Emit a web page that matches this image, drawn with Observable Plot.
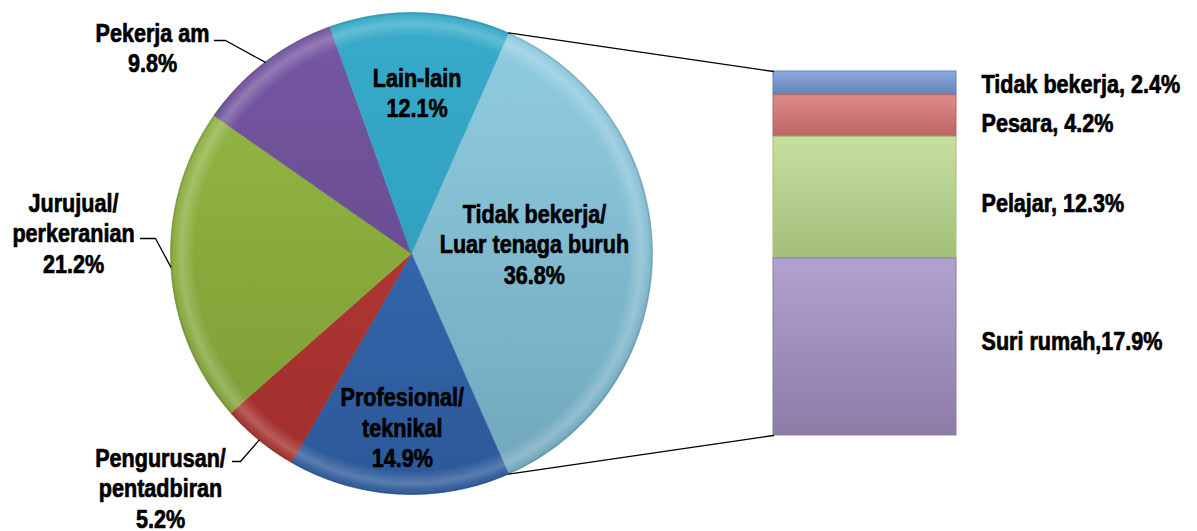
<!DOCTYPE html>
<html>
<head>
<meta charset="utf-8">
<script src="https://cdn.jsdelivr.net/npm/d3@7"></script>
<script src="https://cdn.jsdelivr.net/npm/@observablehq/plot@0.6"></script>
<style>
  html, body { margin: 0; padding: 0; background: #ffffff; }
  #chart svg { display: block; }
</style>
</head>
<body>
<div id="chart"></div>
<script>
// ---------- DATA ----------
const pieCategories = ["Tidak bekerja/\nLuar tenaga buruh", "Profesional/\nteknikal", "Pengurusan/\npentadbiran", "Jurujual/\nperkeranian", "Pekerja am", "Lain-lain"];
const pieValues = [36.8, 14.9, 5.2, 21.2, 9.8, 12.1];
const barCategories = ["Tidak bekerja", "Pesara", "Pelajar", "Suri rumah"];
const barValues = [2.4, 4.2, 12.3, 17.9];
const barLabelText = ["Tidak bekerja, 2.4%", "Pesara, 4.2%", "Pelajar, 12.3%", "Suri rumah,17.9%"];

// ---------- STYLE / LAYOUT ----------
const W = 1197, H = 531;
const cx = 411, cy = 253, R = 241;
const pieTop = ["#92cfe4", "#3d72be", "#bd3d39", "#96bb45", "#7758a4", "#38abca"];
const pieBot = ["#6fa5ba", "#2b5898", "#9e2e2b", "#7a9a33", "#5c4282", "#2b97b6"];
const barTop = ["#8aa9dc", "#de8c8a", "#c6df9f", "#b1a2d0"];
const barBot = ["#6582b6", "#bb6563", "#a3bf7b", "#8c7ca6"];
const barX1 = 773, barX2 = 956, barY1 = 71, barY2 = 435;
const FONT = "'Liberation Sans', Arial, sans-serif";
const FS = 26;
const NARROW = 0.83;
const LH = 1.17;

// inside label radial fraction (null = outside label)
const insideK = [0.51, 0.72, null, null, null, 0.67];
const insideDy = [-10, 0, 0, 0, 0, 0];
// outside labels: text centre, elbow, text-side end of the leader
const outside = {
  2: {tx: 160, ty: 487, elbow: [240, 461], end: [232, 461]},
  3: {tx: 73,  ty: 232, elbow: [155, 238], end: [140, 238]},
  4: {tx: 152, ty: 47,  elbow: [225, 40],  end: [214, 40]}
};
const barLabelDy = [0, 6, 5, -7];

// ---------- GEOMETRY ----------
const total = d3.sum(pieValues);
const rad = d => d * Math.PI / 180;
const pt = (deg, r) => [cx + r * Math.sin(rad(deg)), cy - r * Math.cos(rad(deg))];
let acc = 90 - pieValues[0] / total * 180;
const slices = pieCategories.map((c, i) => {
  const a0 = acc, a1 = acc + pieValues[i] / total * 360;
  acc = a1;
  return {i, name: c, value: pieValues[i], a0, a1, mid: (a0 + a1) / 2};
});
function slicePoints(s) {
  const n = Math.max(4, Math.ceil(s.a1 - s.a0));
  const pts = [{x: cx, y: cy}];
  for (let k = 0; k <= n; k++) {
    const [x, y] = pt(s.a0 + (s.a1 - s.a0) * k / n, R);
    pts.push({x, y});
  }
  pts.push({x: cx, y: cy});
  return pts;
}
const circlePts = d3.range(0, 361, 1).map(a => { const [x, y] = pt(a, R); return {x, y}; });

const barTotal = d3.sum(barValues);
const by = d3.scaleLinear([0, barTotal], [barY1, barY2]);
let bacc = 0;
const barSegs = barCategories.map((c, i) => {
  const y1 = by(bacc); bacc += barValues[i]; const y2 = by(bacc);
  return {i, name: c, value: barValues[i], x1: barX1, x2: barX2, y1, y2, label: barLabelText[i], ly: (y1 + y2) / 2 + barLabelDy[i]};
});

// labels
const fmt = v => v.toFixed(1) + "%";
const insideLabels = slices.filter(s => insideK[s.i] != null).map(s => {
  const [x, y] = pt(s.mid, R * insideK[s.i]);
  return {x, y: y + insideDy[s.i], text: s.name + "\n" + fmt(s.value)};
});
const outsideLabels = slices.filter(s => outside[s.i]).map(s => ({x: outside[s.i].tx, y: outside[s.i].ty, text: s.name + "\n" + fmt(s.value)}));
const leaders = slices.filter(s => outside[s.i]).map(s => {
  const o = outside[s.i];
  const [ex, ey] = pt(s.mid, R);
  return [{x: o.end[0], y: o.end[1]}, {x: o.elbow[0], y: o.elbow[1]}, {x: ex, y: ey}];
});
const [c1x, c1y] = pt(slices[0].a0, R);
const [c2x, c2y] = pt(slices[0].a1, R);
const connectors = [
  [{x: c1x, y: c1y}, {x: barX1, y: barY1}],
  [{x: c2x, y: c2y}, {x: barX1, y: barY2}]
];

// gradient defs as a custom mark
function defsMark() {
  const defs = d3.create("svg:defs");
  pieTop.forEach((c, i) => {
    const g = defs.append("linearGradient").attr("id", "pg" + i)
      .attr("gradientUnits", "userSpaceOnUse").attr("x1", 0).attr("y1", cy - R).attr("x2", 0).attr("y2", cy + R);
    g.append("stop").attr("offset", 0).attr("stop-color", c);
    g.append("stop").attr("offset", 1).attr("stop-color", pieBot[i]);
  });
  barTop.forEach((c, i) => {
    const g = defs.append("linearGradient").attr("id", "bg" + i).attr("x1", 0).attr("y1", 0).attr("x2", 0).attr("y2", 1);
    g.append("stop").attr("offset", 0).attr("stop-color", c);
    g.append("stop").attr("offset", 1).attr("stop-color", barBot[i]);
  });
  const rg = defs.append("radialGradient").attr("id", "rim")
    .attr("gradientUnits", "userSpaceOnUse").attr("cx", cx).attr("cy", cy).attr("r", R);
  rg.append("stop").attr("offset", 0.9).attr("stop-color", "#fff").attr("stop-opacity", 0);
  rg.append("stop").attr("offset", 0.955).attr("stop-color", "#fff").attr("stop-opacity", 0.22);
  rg.append("stop").attr("offset", 0.985).attr("stop-color", "#fff").attr("stop-opacity", 0.05);
  rg.append("stop").attr("offset", 1).attr("stop-color", "#000").attr("stop-opacity", 0.18);
  return defs.node();
}

const marks = [defsMark];
slices.forEach(s => {
  marks.push(Plot.line(slicePoints(s), {x: "x", y: "y", fill: `url(#pg${s.i})`, stroke: `url(#pg${s.i})`, strokeWidth: 0.6, curve: "linear"}));
});
marks.push(Plot.line(circlePts, {x: "x", y: "y", fill: "url(#rim)", stroke: "none"}));
barSegs.forEach(b => {
  marks.push(Plot.rect([b], {x1: "x1", x2: "x2", y1: "y1", y2: "y2", fill: `url(#bg${b.i})`, stroke: barBot[b.i], strokeWidth: 1}));
});
connectors.concat(leaders).forEach(l => marks.push(Plot.line(l, {x: "x", y: "y", stroke: "#000", strokeWidth: 1.3})));
const textOpts = {fontSize: FS, fontWeight: "bold", fontFamily: FONT, lineHeight: LH, fill: "#000", stroke: "#000", strokeWidth: 0.7, lineAnchor: "middle"};
marks.push(Plot.text(insideLabels, {x: "x", y: "y", text: "text", textAnchor: "middle", ...textOpts}));
marks.push(Plot.text(outsideLabels, {x: "x", y: "y", text: "text", textAnchor: "middle", ...textOpts}));
marks.push(Plot.text(barSegs, {x: 981, y: "ly", text: "label", textAnchor: "start", ...textOpts}));

const chart = Plot.plot({
  width: W, height: H,
  margin: 0,
  x: {domain: [0, W], range: [0, W], axis: null},
  y: {domain: [0, H], range: [0, H], axis: null},
  style: {fontFamily: FONT, background: "#ffffff", overflow: "visible"},
  marks
});
// condensed look (the reference uses a narrow bold face)
d3.select(chart).selectAll("text").each(function () {
  const t = this.getAttribute("transform") || "";
  this.setAttribute("transform", t + ` scale(${NARROW},1)`);
});
document.getElementById("chart").appendChild(chart);
</script>
</body>
</html>
